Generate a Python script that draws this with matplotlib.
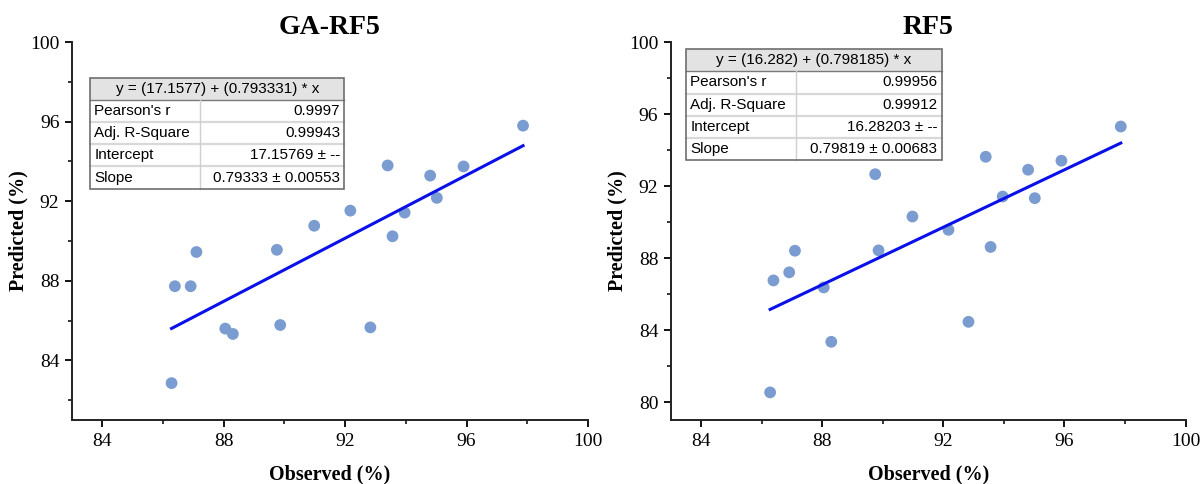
import matplotlib.pyplot as plt
from matplotlib.patches import Rectangle
from matplotlib.ticker import MultipleLocator

# observed values (shared by both panels)
observed = [86.28, 86.39, 86.91, 87.10, 88.05, 88.30, 89.75, 89.86, 90.98,
            92.17, 92.83, 93.40, 93.56, 93.96, 94.80, 95.02, 95.90, 97.86]

pred_ga_rf5 = [82.86, 87.73, 87.73, 89.45, 85.60, 85.33, 89.56, 85.78, 90.77,
               91.53, 85.66, 93.80, 90.24, 91.43, 93.29, 92.17, 93.75, 95.80]
pred_rf5 = [80.54, 86.76, 87.21, 88.41, 86.37, 83.35, 92.66, 88.43, 90.31,
            89.57, 84.46, 93.63, 88.62, 91.42, 92.91, 91.33, 93.41, 95.31]

titles = ["GA-RF5", "RF5"]
intercepts = [17.1577, 16.282]
slopes = [0.793331, 0.798185]
fit_labels = ["y = (17.1577) + (0.793331) * x", "y = (16.282) + (0.798185) * x"]
stat_names = ["Pearson's r", "Adj. R-Square", "Intercept", "Slope"]
stat_values = [
    ["0.9997", "0.99943", "17.15769 \u00b1 --", "0.79333 \u00b1 0.00553"],
    ["0.99956", "0.99912", "16.28203 \u00b1 --", "0.79819 \u00b1 0.00683"],
]
ylims = [(81, 100), (79, 100)]

serif = "Liberation Serif"
sans = "Liberation Sans"

fig = plt.figure(figsize=(12, 4.84), dpi=100)
axes = [fig.add_axes([0.060, 0.132, 0.430, 0.781]),
        fig.add_axes([0.559, 0.132, 0.429, 0.781])]
# table placement in axes fraction: left, right, top, column split
table_pos = [(0.035, 0.528, 0.905, 0.248), (0.030, 0.526, 0.981, 0.244)]


def draw_table(ax, header, names, values, pos):
    left, right, top, split = pos
    row_h = 0.0585
    n = len(names) + 1
    bottom = top - n * row_h
    tr = ax.transAxes
    ax.add_patch(Rectangle((left, top - row_h), right - left, row_h, transform=tr,
                           facecolor="#e3e3e3", edgecolor="none", zorder=5))
    ax.add_patch(Rectangle((left, bottom), right - left, top - bottom - row_h, transform=tr,
                           facecolor="white", edgecolor="none", zorder=5))
    for i in range(2, n):
        y = top - i * row_h
        ax.plot([left, right], [y, y], transform=tr, color="#d8d8d8", lw=1.6, zorder=6)
    ax.plot([left, right], [top - row_h] * 2, transform=tr, color="#7a7a7a", lw=1.0, zorder=6)
    ax.plot([split, split], [bottom, top - row_h], transform=tr, color="#cfcfcf", lw=1.0, zorder=6)
    ax.add_patch(Rectangle((left, bottom), right - left, top - bottom, transform=tr,
                           facecolor="none", edgecolor="#6e6e6e", lw=1.2, zorder=7))
    ax.text((left + right) / 2, top - row_h / 2, header, transform=tr, ha="center",
            va="center", family=sans, fontsize=11, zorder=8)
    for i, (nm, val) in enumerate(zip(names, values)):
        yc = top - (i + 1.5) * row_h
        ax.text(left + 0.008, yc, nm, transform=tr, ha="left", va="center",
                family=sans, fontsize=11, zorder=8)
        ax.text(right - 0.008, yc, val, transform=tr, ha="right", va="center",
                family=sans, fontsize=11, zorder=8)


for k, (ax, preds) in enumerate(zip(axes, [pred_ga_rf5, pred_rf5])):
    ax.scatter(observed, preds, s=72, color="#7b9cd0", edgecolors="none", zorder=3)
    x0, x1 = min(observed), max(observed)
    ax.plot([x0, x1], [intercepts[k] + slopes[k] * x0, intercepts[k] + slopes[k] * x1],
            color="#0a10e8", lw=2.2, zorder=4)

    ax.set_xlim(83, 100)
    ax.set_ylim(*ylims[k])
    ax.xaxis.set_major_locator(MultipleLocator(4))
    ax.xaxis.set_minor_locator(MultipleLocator(2))
    ax.yaxis.set_major_locator(MultipleLocator(4))
    ax.yaxis.set_minor_locator(MultipleLocator(2))
    for s in ["top", "right"]:
        ax.spines[s].set_visible(False)
    for s in ["left", "bottom"]:
        ax.spines[s].set_linewidth(1.4)
        ax.spines[s].set_color("#222222")
    ax.tick_params(which="major", length=5, width=1.3, labelsize=14, pad=4)
    ax.tick_params(which="minor", length=3, width=1.1)
    for lbl in ax.get_xticklabels() + ax.get_yticklabels():
        lbl.set_family(serif)

    ax.set_title(titles[k], family=serif, fontsize=20, fontweight="bold", pad=6)
    ax.set_xlabel("Observed (%)", family=serif, fontsize=14.5, fontweight="bold", labelpad=11)
    ax.set_ylabel("Predicted (%)", family=serif, fontsize=14.5, fontweight="bold", labelpad=1)

    draw_table(ax, fit_labels[k], stat_names, stat_values[k], table_pos[k])

fig.savefig("out.png", dpi=100)
